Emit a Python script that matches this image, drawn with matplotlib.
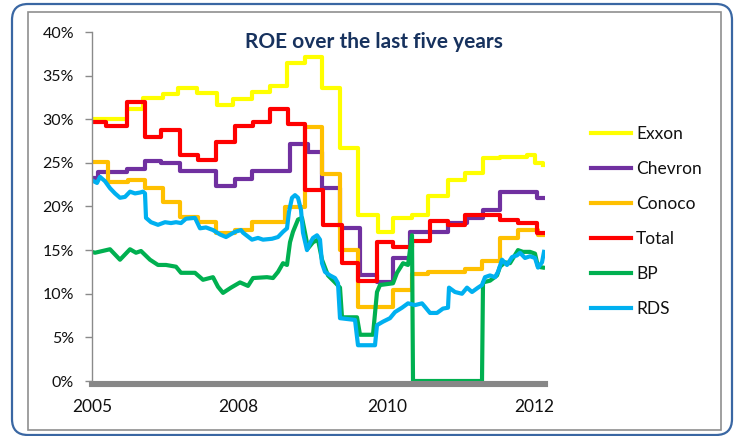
import numpy as np
import matplotlib
matplotlib.use('Agg')
import matplotlib.pyplot as plt
from matplotlib.patches import FancyBboxPatch, Rectangle

plt.rcParams['font.family'] = ['Lato', 'DejaVu Sans']

# x is a running period index along the chart (0 = start of 2005 data)
year_pos = [0, 146, 295, 442]
year_labels = ['2005', '2008', '2010', '2012']

# step series: period where each level starts, ROE in %
exxon_x = [0, 35, 51, 71, 86, 105, 125, 141, 160, 178, 195, 213, 230, 248, 266, 286,
           301, 320, 336, 356, 373, 391, 408, 435, 443, 451]
exxon_y = [30.0, 31.2, 32.4, 32.9, 33.6, 33.0, 31.6, 32.3, 33.1, 33.8, 36.5, 37.1, 33.6,
           26.7, 19.0, 17.1, 18.7, 19.0, 21.2, 23.0, 23.8, 25.6, 25.7, 25.9, 25.0, 24.7]

chevron_x = [0, 6, 35, 53, 69, 88, 124, 143, 160, 198, 216, 230, 248, 268, 285, 301,
             318, 356, 375, 391, 408, 445, 451]
chevron_y = [23.3, 24.0, 24.3, 25.2, 25.0, 24.1, 22.3, 23.2, 24.1, 27.2, 26.2, 22.1,
             17.5, 12.2, 11.3, 14.1, 17.1, 18.1, 18.7, 19.6, 21.7, 21.0, 21.0]

conoco_x = [0, 16, 36, 53, 71, 88, 106, 124, 143, 160, 193, 213, 230, 248, 266, 301,
            320, 336, 373, 390, 408, 426, 446, 451]
conoco_y = [25.1, 22.8, 23.0, 22.1, 20.5, 18.8, 18.2, 17.0, 17.3, 18.2, 19.9, 29.1,
            23.7, 15.0, 8.5, 10.4, 12.3, 12.5, 12.8, 13.8, 16.4, 17.3, 16.7, 16.7]

total_x = [0, 14, 35, 53, 69, 88, 106, 124, 143, 161, 178, 196, 213, 231, 250, 266,
           285, 301, 320, 338, 356, 373, 408, 426, 445, 451]
total_y = [29.7, 29.2, 32.0, 28.0, 28.8, 25.9, 25.3, 27.4, 29.2, 29.7, 31.2, 29.5,
           21.9, 17.9, 13.5, 11.5, 15.9, 15.4, 16.0, 18.3, 17.9, 19.0, 18.5, 18.1,
           17.0, 17.0]

# daily-ish series
bp_x = [0, 3, 18, 28, 38, 44, 49, 58, 66, 74, 84, 89, 103, 111, 121, 126, 131, 139,
        148, 156, 161, 175, 181, 186, 191, 195, 198, 201, 206, 210, 213, 216, 221, 226,
        230, 236, 243, 248, 250, 265, 268, 281, 285, 288, 301, 305, 311, 316, 320, 321,
        390, 391, 398, 405, 408, 413, 418, 426, 431, 438, 443, 446, 451]
bp_y = [14.8, 14.7, 15.1, 13.9, 15.1, 14.7, 14.9, 13.9, 13.3, 13.3, 13.1, 12.4, 12.4,
        11.6, 11.9, 10.8, 10.1, 10.7, 11.3, 10.9, 11.8, 11.9, 11.8, 12.5, 13.5, 13.3,
        15.9, 17.1, 18.5, 18.7, 17.0, 15.2, 15.9, 16.2, 13.9, 12.1, 11.3, 10.7, 7.3,
        7.3, 5.3, 5.3, 10.2, 11.0, 11.2, 12.4, 13.5, 13.3, 16.7, 0.0, 0.0, 11.3, 11.5,
        12.1, 13.1, 13.6, 13.5, 15.0, 14.8, 14.8, 14.6, 13.1, 13.0]

rds_x = [0, 5, 8, 13, 18, 23, 28, 33, 38, 43, 48, 51, 53, 54, 59, 66, 73, 79, 84, 89,
         94, 103, 108, 114, 121, 128, 134, 143, 149, 151, 160, 166, 171, 180, 186, 191,
         195, 197, 200, 203, 206, 209, 211, 215, 218, 221, 225, 228, 230, 233, 238, 243,
         246, 248, 263, 266, 283, 285, 291, 298, 303, 310, 316, 323, 330, 333, 338, 345,
         351, 356, 357, 363, 370, 375, 380, 386, 390, 393, 398, 403, 406, 410, 415, 420,
         425, 428, 433, 438, 443, 446, 450, 452]
rds_y = [23.0, 22.7, 23.4, 22.9, 22.1, 21.5, 21.0, 21.1, 21.7, 21.5, 21.6, 21.7, 21.5,
         18.7, 18.2, 17.9, 18.2, 18.1, 18.2, 18.1, 18.6, 18.7, 17.5, 17.6, 17.3, 16.8,
         16.5, 17.1, 17.3, 17.0, 16.2, 16.4, 16.2, 16.3, 16.5, 17.1, 17.5, 19.4, 21.0,
         21.3, 21.0, 19.6, 17.0, 15.0, 15.8, 16.4, 16.7, 16.2, 13.5, 12.5, 12.1, 11.8,
         11.2, 7.2, 7.0, 4.1, 4.1, 6.4, 6.8, 7.2, 7.9, 8.4, 8.9, 8.7, 8.9, 8.5, 7.8, 7.8,
         8.3, 8.4, 10.7, 10.2, 10.0, 10.7, 10.2, 10.7, 11.0, 11.9, 12.1, 11.9, 12.5,
         13.9, 13.3, 14.2, 14.4, 14.7, 14.1, 14.3, 14.1, 13.0, 13.6, 14.8]

fig = plt.figure(figsize=(7.36, 4.36), dpi=100)

# outer rounded frame and inner chart frame
outer = FancyBboxPatch((0.12, 0.01), 7.20, 4.31, boxstyle="round,pad=0,rounding_size=0.16",
                       transform=fig.dpi_scale_trans, fill=False, edgecolor='#3A67A3', lw=1.6)
inner = Rectangle((0.28, 0.06), 6.93, 4.18, transform=fig.dpi_scale_trans,
                  fill=False, edgecolor='#8F8F8F', lw=1.2)
fig.patches.extend([outer, inner])

ax = fig.add_axes([92/736, 1-381/436, 453/736, 349/436])
ax.set_facecolor('none')

lw = 3
ax.step(exxon_x, exxon_y, where='post', color='#FFFF00', lw=lw, label='Exxon')
ax.step(chevron_x, chevron_y, where='post', color='#7030A0', lw=lw, label='Chevron')
ax.step(conoco_x, conoco_y, where='post', color='#FFC000', lw=lw, label='Conoco')
ax.step(total_x, total_y, where='post', color='#FF0000', lw=lw, label='Total')
ax.plot(bp_x, bp_y, color='#00B050', lw=lw, label='BP')
ax.plot(rds_x, rds_y, color='#00B0F0', lw=lw, label='RDS')

ax.set_xlim(0, 453)
ax.set_ylim(0, 40)
ax.set_yticks(np.arange(0, 41, 5))
ax.set_yticklabels(['%d%%' % v for v in range(0, 41, 5)])
ax.set_xticks(year_pos)
ax.set_xticklabels(year_labels)

for s in ['top', 'right']:
    ax.spines[s].set_visible(False)
ax.spines['left'].set_color('#8A8A8A')
ax.spines['left'].set_linewidth(1.0)
ax.spines['bottom'].set_color('#878787')
ax.spines['bottom'].set_linewidth(4.4)
ax.spines['bottom'].set_position(('outward', 2.2))
ax.spines['bottom'].set_zorder(0.5)

ax.tick_params(axis='y', direction='out', length=5, width=1, color='#8A8A8A',
               pad=8, labelsize=11.5, labelcolor='#111111')
ax.tick_params(axis='x', length=0, pad=11, labelsize=12.5, labelcolor='#111111')

fig.text(374/736, 1-42/436, 'ROE over the last five years', ha='center', va='center',
         fontsize=15, fontweight='bold', color='#17325E')

leg = ax.legend(loc='upper left', bbox_to_anchor=(591/736, 1-126/436),
                bbox_transform=fig.transFigure, frameon=False, fontsize=12.5,
                handlelength=2.3, handletextpad=0.3, labelspacing=1.1,
                borderpad=0, borderaxespad=0)
for t in leg.get_texts():
    t.set_color('#111111')

fig.savefig('out.png', dpi=100)
